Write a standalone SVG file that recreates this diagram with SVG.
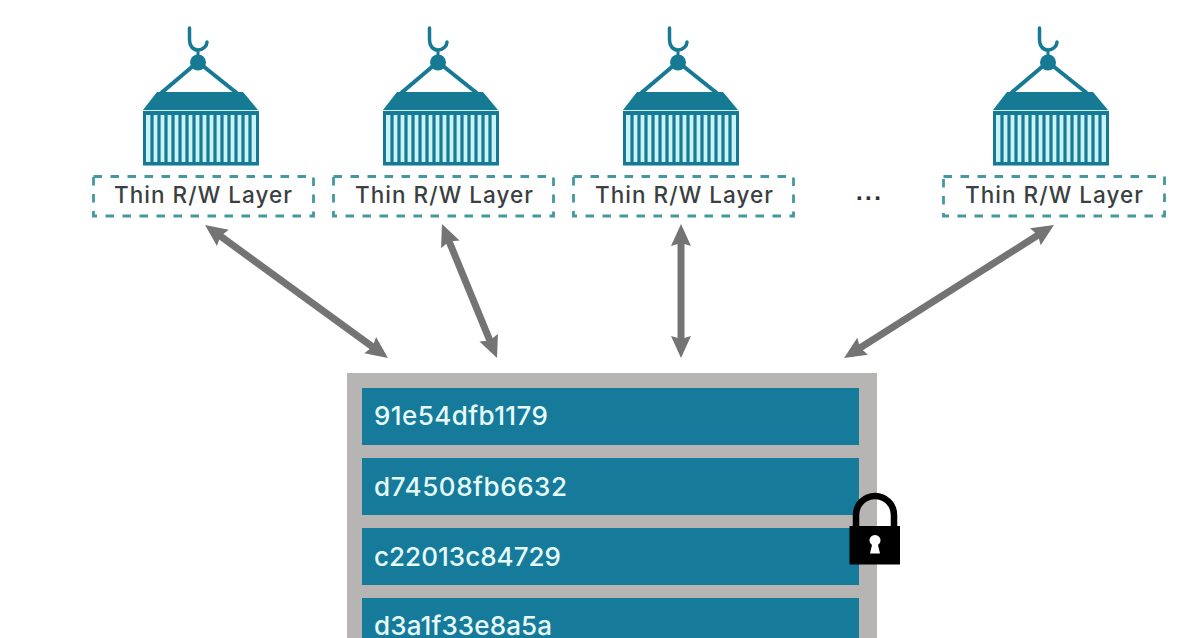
<svg xmlns="http://www.w3.org/2000/svg" width="1190" height="638" viewBox="0 0 1190 638">
<style>
.t{font-family:"Inter","Liberation Sans",sans-serif}
.lbl{font-size:22.500px;fill:#3a3f42;font-weight:500}
.box{fill:none;stroke:#45989f;stroke-width:2.800;stroke-dasharray:8.500 8.500}
.teal{fill:#167a94}
.tl{fill:none;stroke:#167a94}
.row{fill:#167a9a}
.hash{font-size:26px;fill:#e6fafa;font-weight:500}
.arr{stroke:#747474;stroke-width:7;fill:none;marker-start:url(#h);marker-end:url(#h)}
</style>
<defs>
<marker id="h" viewBox="0 0 22 22" refX="14" refY="11" markerUnits="userSpaceOnUse" markerWidth="22" markerHeight="22" orient="auto-start-reverse">
<path d="M22 11L0 1L3 11L0 21Z" fill="#747474"/>
</marker>
<g id="c">
<path class="tl" stroke-width="3.500" stroke-linecap="round" d="M189.500 28V40C189.500 46 193 50 198 50C203 50 207 46 207 42"/>
<path class="tl" stroke-width="3" d="M198 50V58"/>
<circle class="teal" cx="198" cy="62.500" r="8"/>
<path class="tl" stroke-width="4" d="M193 66L160 94M203 66L238 94"/>
<path class="teal" d="M157 92H243L258 110H143Z"/>
<rect x="143" y="110" width="116" height="55.500" fill="#c9f3f6"/>
<path class="teal" d="M143 111H259V165.500H143ZM146 115V162H256V115Z" fill-rule="evenodd"/>
<path class="tl" stroke-width="3.200" d="M152 114V162M159 114V162M166 114V162M173 114V162M180 114V162M187 114V162M194 114V162M201 114V162M208 114V162M215 114V162M222 114V162M229 114V162M236 114V162M243 114V162M250 114V162"/>
</g>
</defs>
<rect width="1190" height="638" fill="#fff"/>
<g id="node-1"><use href="#c"/><rect class="box" x="93.500" y="176.500" width="220" height="39.500"/><text class="t lbl" x="114" y="203" textLength="178">Thin R/W Layer</text></g>
<g id="node-2"><use href="#c" x="240"/><rect class="box" x="333.500" y="176.500" width="220" height="39.500"/><text class="t lbl" x="355" y="203" textLength="178">Thin R/W Layer</text></g>
<g id="node-3"><use href="#c" x="480"/><rect class="box" x="573.500" y="176.500" width="220" height="39.500"/><text class="t lbl" x="595" y="203" textLength="178">Thin R/W Layer</text></g>
<text id="ellipsis" x="856" y="199.500" font-family="Liberation Sans, sans-serif" font-size="24" fill="#2c3033" font-weight="700" letter-spacing="2.400">...</text>
<g id="node-4"><use href="#c" x="850"/><rect class="box" x="943.500" y="176.500" width="221" height="39.500"/><text class="t lbl" x="965" y="203" textLength="178">Thin R/W Layer</text></g>
<g id="connectors">
<path class="arr" d="M211.500 229.700L381.500 353.300"/>
<path class="arr" d="M445 231.400L494 350.600"/>
<path class="arr" d="M681 232L681 350"/>
<path class="arr" d="M1047.200 229.300L850.800 353.700"/>
</g>
<g id="image-stack">
<rect x="347" y="373" width="530" height="265" fill="#b7b5b4"/>
<rect class="row" x="362" y="388" width="497" height="57"/>
<rect class="row" x="362" y="458" width="497" height="57"/>
<rect class="row" x="362" y="528" width="497" height="57"/>
<rect class="row" x="362" y="598" width="497" height="40"/>
<text class="t hash" x="374" y="425" textLength="174">91e54dfb1179</text>
<text class="t hash" x="374" y="495.500" textLength="193">d74508fb6632</text>
<text class="t hash" x="374" y="565.500" textLength="187">c22013c84729</text>
<text class="t hash" x="374" y="635" textLength="178">d3a1f33e8a5a</text>
</g>
<g id="lock">
<path d="M856 528V515A19 19 0 0 1 894 515V528" fill="none" stroke="#000" stroke-width="6.500"/>
<rect x="849.500" y="526" width="50.500" height="38.500" fill="#000"/>
<path d="M870 553.500H880L878 545A5.500 5.500 0 1 0 872 545Z" fill="#fff"/>
</g>
</svg>
